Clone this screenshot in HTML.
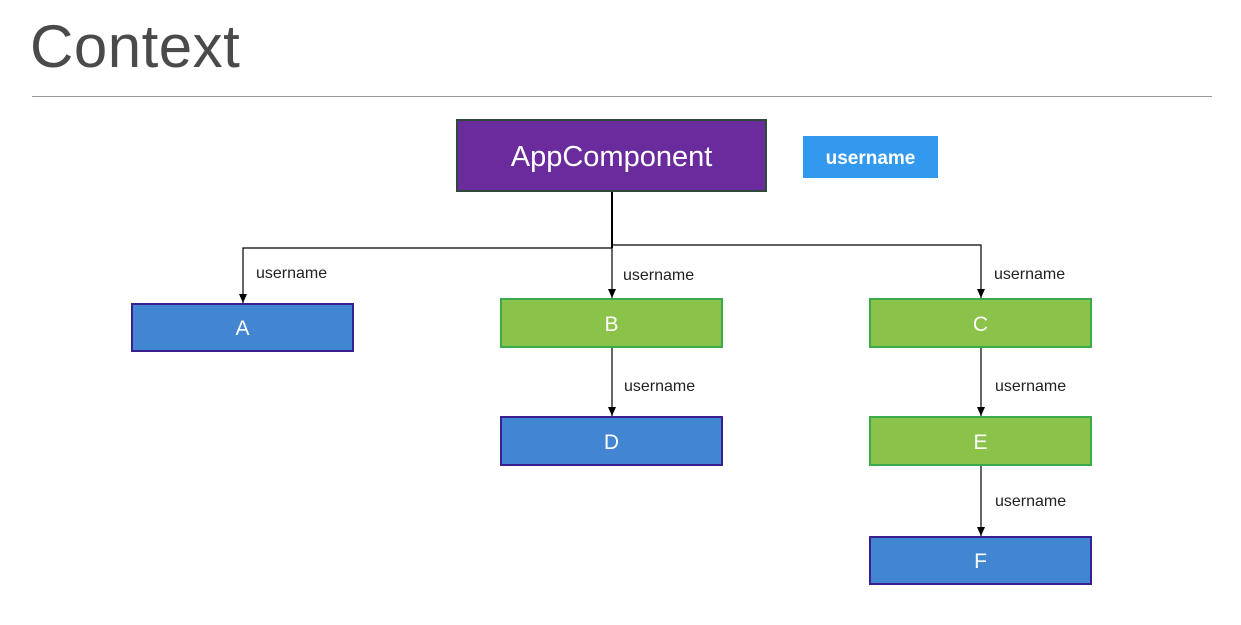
<!DOCTYPE html>
<html><head><style>
body{margin:0;width:1241px;height:625px;background:#fff;overflow:hidden;position:relative;font-family:"Liberation Sans",sans-serif}
.t{position:absolute;left:30px;top:12px;font-size:60px;color:#4a4a4a;letter-spacing:0.5px}
.b{position:absolute;box-sizing:border-box;color:#fff;display:flex;align-items:center;justify-content:center;padding-top:3px}
.blue{background:#4285d0;border:2px solid #3a1f8f;font-size:21px}
.green{background:#8bc34a;border:2px solid #3aaa4a;font-size:21px}
.l{position:absolute;font-size:16px;color:#222}
</style></head><body>
<div class="t">Context</div>
<div style="position:absolute;left:32px;top:96px;width:1180px;height:1px;background:#999"></div>
<svg width="1241" height="625" style="position:absolute;left:0;top:0">
<defs><marker id="a" markerWidth="10" markerHeight="10" refX="9" refY="4" orient="auto" markerUnits="userSpaceOnUse"><path d="M0,0 L9,4 L0,8z" fill="#000"/></marker></defs>
<g stroke="#000" fill="none">
<line x1="612" y1="192" x2="612" y2="248" stroke-width="2"/>
<polyline points="612,248 243,248 243,303" stroke-width="1.2" marker-end="url(#a)"/>
<polyline points="612,248 612,298" stroke-width="1.2" marker-end="url(#a)"/>
<polyline points="612,245 981,245 981,298" stroke-width="1.2" marker-end="url(#a)"/>
<line x1="612" y1="348" x2="612" y2="416" stroke-width="1.2" marker-end="url(#a)"/>
<line x1="981" y1="348" x2="981" y2="416" stroke-width="1.2" marker-end="url(#a)"/>
<line x1="981" y1="466" x2="981" y2="536" stroke-width="1.2" marker-end="url(#a)"/>
</g></svg>
<div class="b" style="left:456px;top:119px;width:311px;height:73px;background:#6a2c9c;border:2px solid #2f4a3a;font-size:29px">AppComponent</div>
<div class="b" style="left:803px;top:136px;width:135px;height:42px;background:#3399ee;font-size:19px;font-weight:bold">username</div>
<div class="b blue" style="left:131px;top:303px;width:223px;height:49px">A</div>
<div class="b green" style="left:500px;top:298px;width:223px;height:50px">B</div>
<div class="b green" style="left:869px;top:298px;width:223px;height:50px">C</div>
<div class="b blue" style="left:500px;top:416px;width:223px;height:50px">D</div>
<div class="b green" style="left:869px;top:416px;width:223px;height:50px">E</div>
<div class="b blue" style="left:869px;top:536px;width:223px;height:49px">F</div>
<div class="l" style="left:256px;top:265px">username</div>
<div class="l" style="left:623px;top:267px">username</div>
<div class="l" style="left:994px;top:266px">username</div>
<div class="l" style="left:624px;top:378px">username</div>
<div class="l" style="left:995px;top:378px">username</div>
<div class="l" style="left:995px;top:493px">username</div>
</body></html>
